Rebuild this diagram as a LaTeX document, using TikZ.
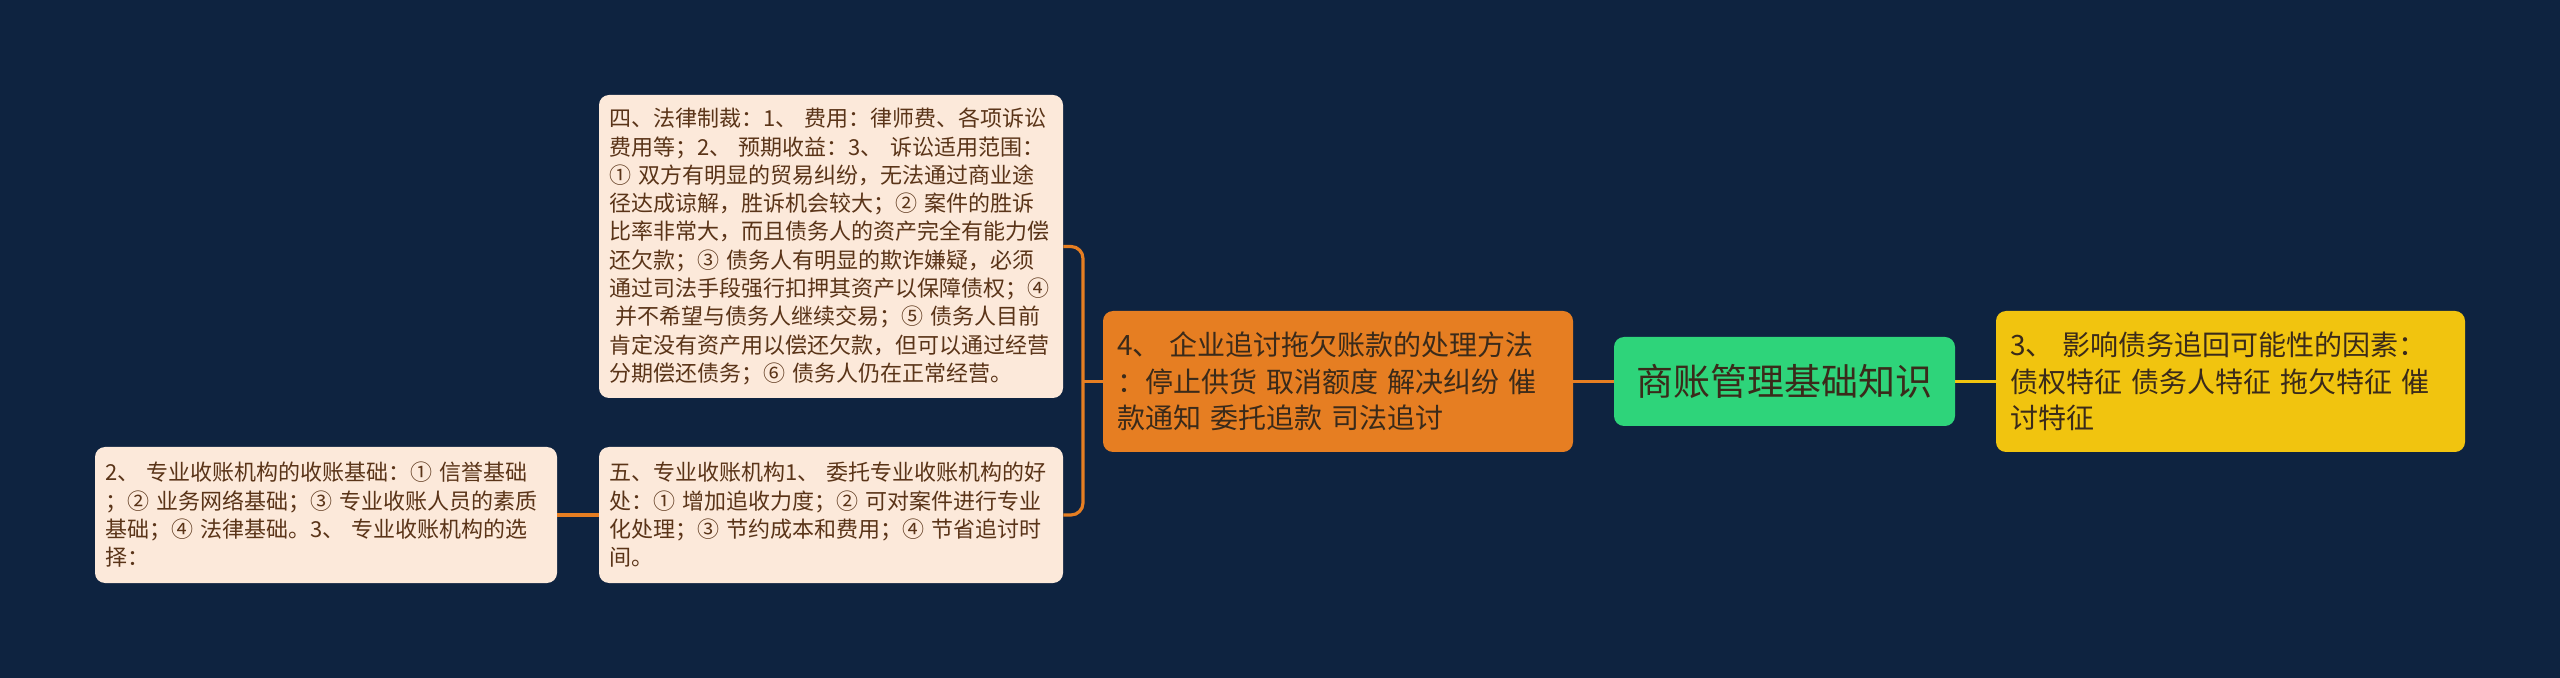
\documentclass[tikz,border=0pt]{standalone}
\usepackage{fontspec}
\setmainfont{Noto Sans CJK SC}
\usepackage{xcolor}

\definecolor{bgnavy}{HTML}{0E2340}
\definecolor{leafpeach}{HTML}{FCE9DA}
\definecolor{leafbrown}{HTML}{5A3418}
\definecolor{midorange}{HTML}{E67E22}
\definecolor{rootgreen}{HTML}{2ED47A}
\definecolor{sideyellow}{HTML}{F1C40F}
\definecolor{darkink}{HTML}{3A2A1A}

\tikzset{
  leafbox/.style={fill=leafpeach, text=leafbrown, rounded corners=5pt, align=left,
    inner xsep=5pt, inner ysep=4pt, font=\fontsize{11}{14.15}\selectfont},
  topicbox/.style={rounded corners=5pt, align=left, text=darkink,
    inner xsep=7pt, inner ysep=4pt, font=\fontsize{14}{18.3}\selectfont},
  rootbox/.style={fill=rootgreen, text=darkink, rounded corners=5pt, align=center,
    font=\fontsize{18.5}{22}\selectfont},
  orangelink/.style={draw=midorange, line width=1.6pt},
  yellowlink/.style={draw=sideyellow, line width=1.6pt},
}

\begin{document}
\begin{tikzpicture}[x=0.5pt,y=0.5pt,yscale=-1,xscale=1]
	\fill[bgnavy] (0,0) rectangle (2560,678);
	\useasboundingbox (0,0) rectangle (2560,678);

	% Text Node
	\node[rootbox, minimum width=170.5pt, minimum height=44.5pt] (root) at (1784.5,381.5) {商账管理基础知识};
	% Text Node
	\node[topicbox, fill=midorange, text width=221pt, minimum height=70.5pt] (fa) at (1338,381.5) {4、 企业追讨拖欠账款的处理方法\\：停止供货 取消额度 解决纠纷 催\\款通知 委托追款 司法追讨};
	% Text Node
	\node[topicbox, fill=sideyellow, text width=220.5pt, minimum height=70.5pt] (fb) at (2230.5,381.5) {3、 影响债务追回可能性的因素：\\债权特征 债务人特征 拖欠特征 催\\讨特征};
	% Text Node
	\node[leafbox, text width=222pt, minimum height=151.5pt] (f4) at (831,246.5) {四、法律制裁：1、 费用：律师费、各项诉讼\\费用等；2、 预期收益：3、 诉讼适用范围：\\① 双方有明显的贸易纠纷，无法通过商业途\\径达成谅解，胜诉机会较大；② 案件的胜诉\\比率非常大，而且债务人的资产完全有能力偿\\还欠款；③ 债务人有明显的欺诈嫌疑，必须\\通过司法手段强行扣押其资产以保障债权；④\\\hspace*{3pt}并不希望与债务人继续交易；⑤ 债务人目前\\肯定没有资产用以偿还欠款，但可以通过经营\\分期偿还债务；⑥ 债务人仍在正常经营。};
	% Text Node
	\node[leafbox, text width=222pt, minimum height=68pt] (f5) at (831,515) {五、专业收账机构1、 委托专业收账机构的好\\处：① 增加追收力度；② 可对案件进行专业\\化处理；③ 节约成本和费用；④ 节省追讨时\\间。};
	% Text Node
	\node[leafbox, text width=221pt, minimum height=68pt] (f52) at (326,515) {2、 专业收账机构的收账基础：① 信誉基础\\；② 业务网络基础；③ 专业收账人员的素质\\基础；④ 法律基础。3、 专业收账机构的选\\择：};

	%Straight Lines
	\coordinate (jn) at (1083,381.5);
	\draw[orangelink] (root.west) -- (fa.east);
	\draw[yellowlink] (root.east) -- (fb.west);
	\draw[orangelink] (fa.west) -- (jn);
	\draw[orangelink, rounded corners=6pt] (f4.east) -| (jn) |- (f5.east);
	\draw[orangelink] (f5.west) -- (f52.east);
\end{tikzpicture}
\end{document}
